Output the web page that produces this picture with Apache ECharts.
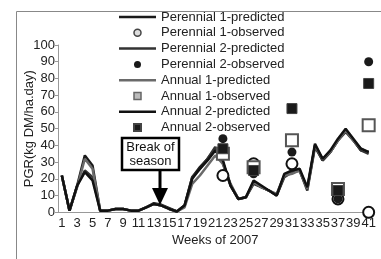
<!DOCTYPE html>
<html><head><meta charset="utf-8">
<script src="https://cdn.jsdelivr.net/npm/echarts@6/dist/echarts.min.js"></script>
<style>html,body{margin:0;padding:0;background:#fff}#c{width:381px;height:259px}</style>
</head><body><div id="c"></div>
<script>
const weeks = [];
for (let w = 1; w <= 41; w++) weeks.push(String(w));
const perennial1Pred = [22,1,16,34,28,1,1,2,2,1,1,3,5.5,4.5,2.5,0.5,4,21,27,32,38,30,16,8,9,18,15,13,10,22,24,25,14,40,31,36,43,49,43,37,36];
const perennial2Pred = [22,1,16,25,21,1,1,2,2,1,1,3,5,4,2,0.5,4,21,26,32,39,29,16,8,9,17,15,13,10,21,24,25,13,39,31,36,43,48,43,37,35];
const annual1Pred    = [22,1,15,32,26,1,1,2,2,1,1,3,5,4,2,0.5,3,17,22,28,34,29,17,8,9,18,15,13,11,22,23,25,14,40,32,36,43,49,43,38,36];
const annual2Pred    = [22,1,16,24,19,1,1,2,2,1,1,3,5,4,2,0.5,4,20,26,31,37,31,16,8,9,19,16,13,10,23,25,26,15,41,32,37,44,50,44,38,36];
const obsWeeks = ['22','26','31','37','41'];
const perennial1Obs = [22,29,29,8,0];
const perennial2Obs = [44,23,36,8,90];
const annual1Obs    = [35,27,43,14,52];
const annual2Obs    = [38,25,62,13,77];
const yTicks = [0,10,20,30,40,50,60,70,80,90,100];

const FONT = 'Liberation Sans';
const chart = echarts.init(document.getElementById('c'));
// legend icons padded to the 37x8 legend box so the marker stays small and centred
const BOX = 'M0,0L0.001,0M37,8L36.999,8';
const ICON_CIRCLE = 'path://' + BOX + 'M15,4A3.5,3.5,0,1,1,22,4A3.5,3.5,0,1,1,15,4Z';
const ICON_SQUARE = 'path://' + BOX + 'M15,0.5L22,0.5L22,7.5L15,7.5Z';
const ICON_LINE = 'path://' + BOX + 'M0,2.75L37,2.75L37,5.25L0,5.25Z';
function lineS(name, data, color) {
  return {name, type:'line', data, symbol:'none', smooth:false,
    lineStyle:{color, width:2.5}, itemStyle:{color}, z:2, animation:false};
}
function scat(name, vals, symbol, size, fill, border, bw) {
  return {name, type:'scatter', data: obsWeeks.map((w,i)=>[w, vals[i]]),
    symbol, symbolSize:size, itemStyle:{color:fill, borderColor:border, borderWidth:bw, opacity:1},
    z:5, animation:false};
}
const lineColors = ['#1a1a1a', '#333', '#6a6a6a', '#111'];
chart.setOption({
  animation:false,
  textStyle:{fontFamily:FONT},
  grid:{left:58, right:8.5, top:45, bottom:46.7},
  xAxis:{type:'category', data:weeks, boundaryGap:true,
    name:'Weeks of 2007', nameLocation:'middle', nameGap:22, nameMoveOverlap:false,
    nameTextStyle:{fontSize:13, color:'#222', fontFamily:FONT},
    axisLine:{lineStyle:{color:'#999', width:1}},
    axisTick:{interval:0, length:3, lineStyle:{color:'#999'}},
    axisLabel:{interval:1, fontSize:13, color:'#222', margin:5, fontFamily:FONT},
    splitLine:{show:false}},
  yAxis:{type:'value', min:yTicks[0], max:yTicks[yTicks.length-1], interval:10,
    name:'PGR(kg DM/ha.day)', nameLocation:'middle', nameGap:22, nameMoveOverlap:false,
    nameTextStyle:{fontSize:13, color:'#222', fontFamily:FONT},
    axisLine:{show:true, lineStyle:{color:'#999', width:1}},
    axisTick:{show:true, length:3, lineStyle:{color:'#999'}},
    axisLabel:{fontSize:13, color:'#222', margin:3, fontFamily:FONT},
    splitLine:{show:false}},
  legend:{orient:'vertical', left:118, top:10.5, itemWidth:37, itemHeight:8, itemGap:2.8,
    padding:0, selectedMode:false,
    textStyle:{fontSize:13, color:'#222', fontFamily:FONT},
    data:[
      {name:'Perennial 1-predicted', icon:ICON_LINE, itemStyle:{color:lineColors[0], borderWidth:0}},
      {name:'Perennial 1-observed', icon:ICON_CIRCLE, itemStyle:{color:'#ddd', borderColor:'#444', borderWidth:1.5}},
      {name:'Perennial 2-predicted', icon:ICON_LINE, itemStyle:{color:lineColors[1], borderWidth:0}},
      {name:'Perennial 2-observed', icon:ICON_CIRCLE},
      {name:'Annual 1-predicted', icon:ICON_LINE, itemStyle:{color:lineColors[2], borderWidth:0}},
      {name:'Annual 1-observed', icon:ICON_SQUARE, itemStyle:{color:'#bbb', borderColor:'#666', borderWidth:1.5}},
      {name:'Annual 2-predicted', icon:ICON_LINE, itemStyle:{color:lineColors[3], borderWidth:0}},
      {name:'Annual 2-observed', icon:ICON_SQUARE}
    ]},
  graphic:[
    {type:'rect', shape:{x:16.5, y:11.5, width:500, height:400}, style:{fill:'none', stroke:'#888', lineWidth:1}, z:0, silent:true},
    {type:'rect', shape:{x:122, y:138, width:57, height:32}, style:{fill:'#fff', stroke:'#000', lineWidth:2.5}, z:10},
    {type:'text', x:150.5, y:147, style:{text:'Break of', font:'13px "Liberation Sans"', fill:'#111', align:'center', verticalAlign:'middle'}, z:11},
    {type:'text', x:150.5, y:161, style:{text:'season', font:'13px "Liberation Sans"', fill:'#111', align:'center', verticalAlign:'middle'}, z:11},
    {type:'line', shape:{x1:160, y1:170, x2:160, y2:190}, style:{stroke:'#000', lineWidth:3}, z:10},
    {type:'polygon', shape:{points:[[152,188],[168,188],[160,205]]}, style:{fill:'#000'}, z:10}
  ],
  series:[
    lineS('Perennial 1-predicted', perennial1Pred, lineColors[0]),
    scat('Perennial 1-observed', perennial1Obs, 'circle', 11, '#fff', '#111', 2),
    lineS('Perennial 2-predicted', perennial2Pred, lineColors[1]),
    scat('Perennial 2-observed', perennial2Obs, 'circle', 9, '#1a1a1a', '#1a1a1a', 0),
    lineS('Annual 1-predicted', annual1Pred, lineColors[2]),
    scat('Annual 1-observed', annual1Obs, 'rect', 12, '#fff', '#555', 2),
    lineS('Annual 2-predicted', annual2Pred, lineColors[3]),
    scat('Annual 2-observed', annual2Obs, 'rect', 10, '#1a1a1a', '#444', 1)
  ]
});
</script></body></html>
